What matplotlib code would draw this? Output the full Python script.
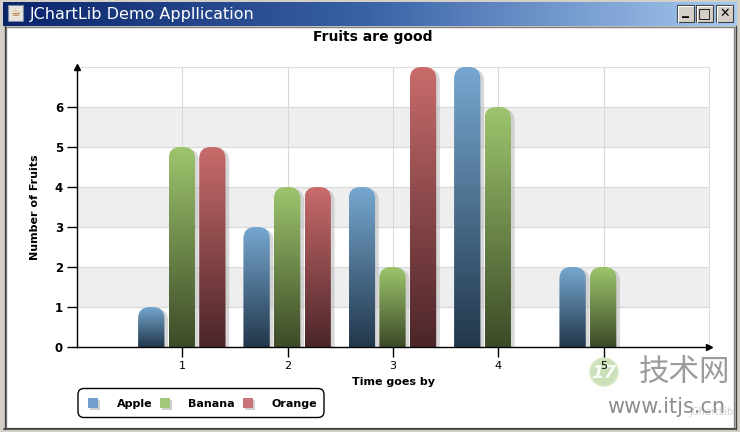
import numpy as np
import matplotlib
matplotlib.use('Agg')
import matplotlib.pyplot as plt
from matplotlib.patches import FancyBboxPatch, Rectangle, Circle
from matplotlib.colors import LinearSegmentedColormap

# ---- data ----
categories = [1, 2, 3, 4, 5]
series_names = ['Apple', 'Banana', 'Orange']
apple = [1, 3, 4, 7, 2]
banana = [5, 4, 2, 6, 2]
orange = [5, 4, 7, 0, 0]
y_ticks = [0, 1, 2, 3, 4, 5, 6]
chart_title = 'Fruits are good'
x_label = 'Time goes by'
y_label = 'Number of Fruits'
window_title = 'JChartLib Demo Appllication'

series_values = [apple, banana, orange]
grad_colors = [('#22374b', '#76a7d0'),   # bottom, top
               ('#3c4a27', '#9dc56d'),
               ('#4b2529', '#c96b6b')]
legend_colors = ['#6f9fca', '#a2c779', '#c6737a']

W, H = 740, 432
fig = plt.figure(figsize=(W / 100, H / 100), dpi=100)
fig.patch.set_facecolor('white')


def fx(x):
    return x / W


def fy(y):
    return 1 - y / H


# ---- window chrome overlay (pixel coordinates) ----
ov = fig.add_axes([0, 0, 1, 1], zorder=0)
ov.set_xlim(0, W)
ov.set_ylim(H, 0)
ov.axis('off')
ov.patch.set_alpha(0)
ov.add_patch(Rectangle((0, 0), W, H, facecolor='#d4d0c8', edgecolor='none'))
ov.add_patch(Rectangle((6, 27), W - 12, H - 31, facecolor='white', edgecolor='#808080', lw=1))
ov.plot([4.5, 4.5], [26, 429], color='#404040', lw=1)
ov.plot([W - 4.5, W - 4.5], [26, 429], color='#404040', lw=1)
ov.plot([4, W - 4], [428.5, 428.5], color='#404040', lw=1.2)
# title bar gradient
cmap_tb = LinearSegmentedColormap.from_list('tb', ['#0a246a', '#3a62a6', '#a6caf0'])
ov.imshow(np.linspace(0, 1, 256).reshape(1, -1), cmap=cmap_tb, extent=(3, W - 3, 26, 2),
          aspect='auto', interpolation='bilinear', zorder=1)
ov.set_xlim(0, W)
ov.set_ylim(H, 0)
# icon
ov.add_patch(Rectangle((8, 5), 15, 16, facecolor='#e8e4dc', edgecolor='#7a8aa8', lw=0.8, zorder=2))
ov.text(15.5, 13.5, '☕', fontsize=8, color='#c07030', ha='center', va='center', zorder=3)
ov.text(30, 14.5, window_title, fontsize=11.5, color='white', ha='left', va='center',
        family='DejaVu Sans', zorder=3)
# buttons
for bx, glyph in [(677, '_'), (696, '□'), (716, '✕')]:
    ov.add_patch(Rectangle((bx, 5), 17, 17, facecolor='#d4d0c8', edgecolor='#404040', lw=0.8, zorder=2))
    ov.plot([bx + 0.8, bx + 0.8, bx + 16.2], [21.5, 5.8, 5.8], color='white', lw=0.8, zorder=3)
    ov.text(bx + 8.5, 13.5 if glyph != '_' else 10.5, glyph, fontsize=10 if glyph != '✕' else 9,
            fontweight='bold', ha='center', va='center', color='black', zorder=3)

# ---- watermark (behind chart texts) ----
ov.add_patch(Circle((604, 372), 14, facecolor='#b5d39a', edgecolor='#d8e8c8', lw=1.5,
                    alpha=0.7, zorder=2))
ov.text(604, 373, '17', ha='center', va='center', fontsize=13, color='white', style='italic',
        fontweight='bold', alpha=0.9, zorder=3)
ov.text(639, 372, '技术网', ha='left', va='center', fontsize=22, color='#9c9c9c',
        family=['Noto Sans CJK SC', 'DejaVu Sans'], zorder=3)
ov.text(689, 412, 'JChartLib', ha='left', va='center', fontsize=7, color='#d0d0d0', zorder=3)
ov.text(607, 407, 'www.itjs.cn', ha='left', va='center', fontsize=15, color='#8e8e8e',
        family='DejaVu Sans', zorder=4)

# ---- main chart axes ----
ax = fig.add_axes([fx(77), fy(347), (709 - 77) / W, (347 - 67) / H], zorder=2)
ax.set_facecolor('white')
for k in (1, 3, 5):
    ax.axhspan(k, k + 1, color='#eeeeee', zorder=0, lw=0)

bar_w = 0.25
offsets = [-0.295, -0.005, 0.285]
rs = 0.11
aspect = 105 / 40.0
xs = np.array(categories, dtype=float)
for si, vals in enumerate(series_values):
    bottom_c, top_c = grad_colors[si]
    cmap = LinearSegmentedColormap.from_list('g%d' % si, [bottom_c, top_c])
    for x, v in zip(xs + offsets[si], vals):
        if v <= 0:
            continue
        x0 = x - bar_w / 2
        # shadow
        sh = FancyBboxPatch((x0 + 0.035, -0.6), bar_w, v + 0.6 - 0.05,
                            boxstyle='round,pad=0,rounding_size=%g' % rs,
                            mutation_aspect=aspect, facecolor='#b8b8b8', edgecolor='none',
                            alpha=0.55, zorder=2)
        ax.add_patch(sh)
        p = FancyBboxPatch((x0, -0.6), bar_w, v + 0.6,
                           boxstyle='round,pad=0,rounding_size=%g' % rs,
                           mutation_aspect=aspect, facecolor='none', edgecolor='none', zorder=3)
        ax.add_patch(p)
        im = ax.imshow(np.linspace(0, 1, 256).reshape(-1, 1), cmap=cmap, origin='lower',
                       extent=(x0, x0 + bar_w, 0, v), aspect='auto', interpolation='bilinear',
                       zorder=3)
        im.set_clip_path(p)

ax.set_xlim(0, 6)
ax.set_ylim(0, 7)
ax.set_aspect('auto')
ax.set_xticks(categories)
ax.set_yticks(y_ticks)
ax.set_xticklabels([str(c) for c in categories], fontsize=8)
ax.set_yticklabels([str(t) for t in y_ticks], fontsize=8.5, fontweight='bold')
ax.tick_params(direction='out', length=7, width=1, color='black', pad=3)
ax.grid(True, color='#d8d8d8', lw=0.8)
ax.set_axisbelow(True)
for s in ('top', 'right'):
    ax.spines[s].set_color('#dddddd')
    ax.spines[s].set_linewidth(0.8)
for s in ('left', 'bottom'):
    ax.spines[s].set_color('black')
    ax.spines[s].set_linewidth(1)
    ax.spines[s].set_zorder(5)
ax.plot(1, 0, '>', color='black', ms=4, transform=ax.transAxes, clip_on=False, zorder=6)
ax.plot(0, 1, '^', color='black', ms=4, transform=ax.transAxes, clip_on=False, zorder=6)

# ---- texts ----
fig.text(fx(373), fy(37), chart_title, ha='center', va='center', fontsize=10, fontweight='bold')
fig.text(fx(35), fy(207), y_label, ha='center', va='center', rotation=90, fontsize=8,
         fontweight='bold')
fig.text(fx(393), fy(382), x_label, ha='center', va='center', fontsize=8, fontweight='bold')

# ---- legend (pixel coordinates) ----
lg = fig.add_axes([0, 0, 1, 1], zorder=3)
lg.set_xlim(0, W)
lg.set_ylim(H, 0)
lg.axis('off')
lg.patch.set_alpha(0)
lg.add_patch(FancyBboxPatch((78, 388.5), 246, 29, boxstyle='round,pad=0,rounding_size=6',
                            facecolor='white', edgecolor='black', lw=1))
marker_x = [88, 160, 243]
text_x = [117, 188, 272]
for i, name in enumerate(series_names):
    lg.add_patch(Rectangle((marker_x[i] + 2, 400), 10, 10, facecolor='#d0d0d0', edgecolor='none'))
    lg.add_patch(Rectangle((marker_x[i], 398), 10, 10, facecolor=legend_colors[i], edgecolor='none'))
    lg.text(text_x[i], 404, name, ha='left', va='center', fontsize=8, fontweight='bold')

fig.savefig('out.png', dpi=100)
